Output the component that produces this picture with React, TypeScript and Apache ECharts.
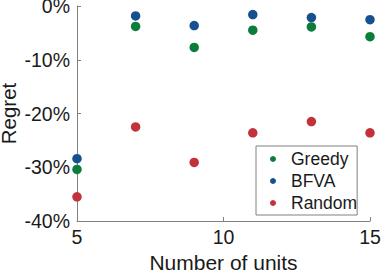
import React, { useEffect, useRef } from "react";
import * as echarts from "echarts";

const units = [5, 7, 9, 11, 13, 15];
const greedy = [-30.4, -3.8, -7.7, -4.5, -3.9, -5.7];
const bfva = [-28.4, -1.85, -3.65, -1.6, -2.15, -2.55];
const random = [-35.5, -22.5, -29.1, -23.6, -21.5, -23.6];
const seriesNames = ["Greedy", "BFVA", "Random"];
const xLabel = "Number of units";
const yLabel = "Regret";

const FONT = "'Liberation Sans', Arial, Helvetica, sans-serif";
const TEXT = "#1a1a1a";
const AXIS = "#808080";
const COLORS = ["#0b7d3b", "#17508f", "#c1323a"];

export default function App() {
  const ref = useRef<HTMLDivElement>(null);
  useEffect(() => {
    if (!ref.current) return;
    const chart = echarts.init(ref.current, undefined, { renderer: "svg" });
    const pairs = (ys: number[]) => units.map((u, i) => [u, ys[i]]);
    const values = [greedy, bfva, random];
    chart.setOption({
      animation: false,
      textStyle: { fontFamily: FONT },
      grid: {
        left: 77,
        right: 12,
        top: 6,
        bottom: 52,
        containLabel: false,
        outerBoundsMode: "none",
      },
      xAxis: {
        type: "value",
        min: 5,
        max: 15,
        interval: 5,
        name: xLabel,
        nameLocation: "middle",
        nameGap: 31,
        nameMoveOverlap: false,
        nameTextStyle: { fontSize: 21, color: TEXT, fontFamily: FONT },
        axisLine: { show: true, onZero: false, lineStyle: { color: AXIS, width: 1 } },
        axisTick: { show: true, inside: true, length: 4, lineStyle: { color: AXIS } },
        axisLabel: { fontSize: 19.5, color: TEXT, margin: 6, fontFamily: FONT },
        splitLine: { show: false },
      },
      yAxis: {
        type: "value",
        min: -40,
        max: 0,
        interval: 10,
        name: yLabel,
        nameLocation: "middle",
        nameGap: 58,
        nameMoveOverlap: false,
        nameTextStyle: { fontSize: 20.5, color: TEXT, fontFamily: FONT },
        axisLine: { show: true, onZero: false, lineStyle: { color: AXIS, width: 1 } },
        axisTick: { show: true, inside: true, length: 4, lineStyle: { color: AXIS } },
        axisLabel: {
          fontSize: 19.5,
          color: TEXT,
          margin: 7,
          fontFamily: FONT,
          formatter: "{value}%",
        },
        splitLine: { show: false },
      },
      legend: {
        orient: "vertical",
        left: 256,
        top: 146,
        data: seriesNames,
        icon: "circle",
        itemWidth: 26,
        itemHeight: 6,
        itemGap: 4,
        padding: [4, 0, 3, 14],
        backgroundColor: "#ffffff",
        borderColor: "#808080",
        borderWidth: 1,
        borderRadius: 0,
        textStyle: { fontSize: 17.5, color: TEXT, fontFamily: FONT },
      },
      series: seriesNames.map((name, i) => ({
        name,
        type: "scatter",
        symbol: "circle",
        symbolSize: 9.5,
        data: pairs(values[i]),
        itemStyle: { color: COLORS[i], opacity: 1 },
        z: i === 0 ? 4 : i === 1 ? 3 : 2,
        clip: false,
      })),
    });
    return () => chart.dispose();
  }, []);
  return (
    <div
      ref={ref}
      style={{ position: "fixed", left: 0, top: 0, width: 382, height: 273, background: "#fff" }}
    />
  );
}
